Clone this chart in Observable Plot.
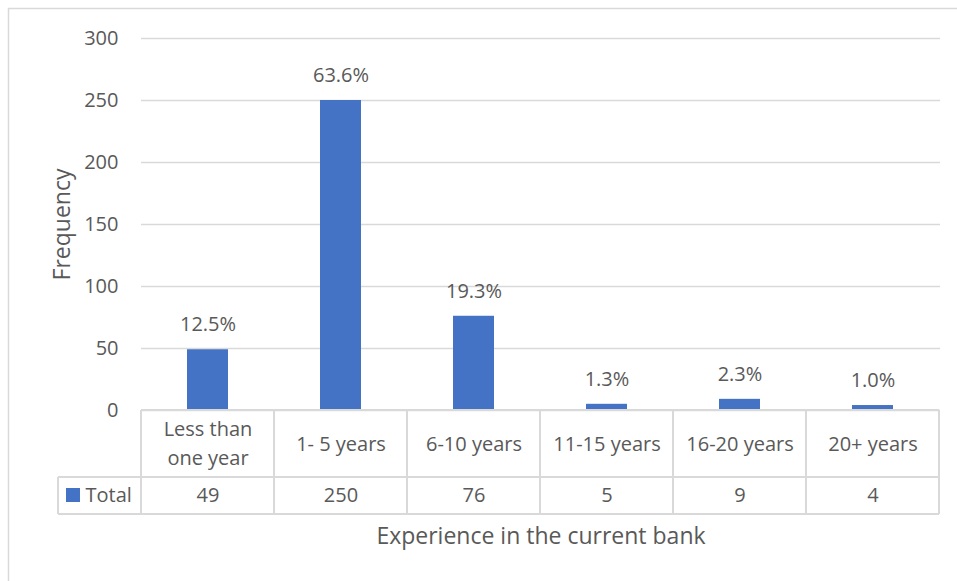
<!DOCTYPE html>
<html>
<head>
<meta charset="utf-8">
<script src="https://cdn.jsdelivr.net/npm/d3@7"></script>
<script src="https://cdn.jsdelivr.net/npm/@observablehq/plot@0.6"></script>
<style>
  html, body { margin: 0; padding: 0; background: #fff; }
  svg { display: block; }
</style>
</head>
<body>
<div id="chart"></div>
<script>
const categories = ["Less than\none year", "1- 5 years", "6-10 years", "11-15 years", "16-20 years", "20+ years"];
const values = [49, 250, 76, 5, 9, 4];
const percentLabels = ["12.5%", "63.6%", "19.3%", "1.3%", "2.3%", "1.0%"];
const yTicks = [0, 50, 100, 150, 200, 250, 300];
const seriesName = "Total";
const yTitle = "Frequency";
const xTitle = "Experience in the current bank";

const data = categories.map((c, i) => ({ cat: c, value: values[i], pct: percentLabels[i] }));

const FONT = "'Open Sans', sans-serif";
const TXT = "#595959";
const GRID = "#d9d9d9";
const BAR = "#4472C4";
const FS = 20;
const TS = 23;

const chart = Plot.plot({
  width: 957,
  height: 581,
  marginLeft: 141,
  marginRight: 17,
  marginTop: 38,
  marginBottom: 171,
  style: { fontFamily: FONT, fontSize: FS + "px", color: TXT, background: "white", overflow: "visible" },
  x: { domain: categories, paddingInner: 0.69, paddingOuter: 0.345, axis: null },
  y: { domain: [0, 300], ticks: yTicks, label: null },
  marks: [
    Plot.gridY(yTicks, { stroke: GRID, strokeOpacity: 1, strokeWidth: 1.3 }),
    Plot.axisY(yTicks, { tickSize: 0, tickPadding: 23, fontSize: FS, fill: TXT, label: null }),
    Plot.barY(data, { x: "cat", y: "value", fill: BAR }),
    Plot.text(data, { x: "cat", y: "value", text: "pct", dy: -25, fontSize: FS, fill: TXT }),
    // category row of data table
    Plot.text(data, { x: "cat", text: "cat", frameAnchor: "bottom", lineAnchor: "middle", dy: 31, fontSize: FS, fill: TXT, lineHeight: 1.45 }),
    // values row of data table
    Plot.text(data, { x: "cat", text: d => String(d.value), frameAnchor: "bottom", lineAnchor: "middle", dy: 85, fontSize: FS, fill: TXT }),
    // series name cell
    Plot.text([seriesName], { text: d => d, frameAnchor: "bottom-left", lineAnchor: "middle", dx: -56, dy: 85, textAnchor: "start", fontSize: FS, fill: TXT }),
    // y title
    Plot.text([yTitle], { text: d => d, frameAnchor: "left", textAnchor: "middle", lineAnchor: "middle", dx: -79, rotate: -90, fontSize: TS, fill: TXT }),
    // x title
    Plot.text([xTitle], { text: d => d, frameAnchor: "bottom", lineAnchor: "middle", dy: 126, fontSize: TS, fill: TXT })
  ]
});

document.getElementById("chart").appendChild(chart);

// Data-table grid lines and legend key, positioned from Plot's own x scale
const xs = chart.scale("x");
const step = xs.step;
const gap = step - xs.bandwidth;
const edges = categories.map(c => xs.apply(c) - gap / 2);
edges.push(edges[edges.length - 1] + step);
const yTop = 410, yMid = 477, yBot = 514, xLeft = 58;

const svg = d3.select(chart);
const g = svg.append("g").attr("stroke", GRID).attr("stroke-width", 2).attr("fill", "none");
g.append("line").attr("x1", edges[0]).attr("x2", edges[edges.length - 1]).attr("y1", yTop).attr("y2", yTop);
g.append("line").attr("x1", xLeft).attr("x2", edges[edges.length - 1]).attr("y1", yMid).attr("y2", yMid);
g.append("line").attr("x1", xLeft).attr("x2", edges[edges.length - 1]).attr("y1", yBot).attr("y2", yBot);
g.append("line").attr("x1", xLeft).attr("x2", xLeft).attr("y1", yMid).attr("y2", yBot);
edges.forEach(e => g.append("line").attr("x1", e).attr("x2", e).attr("y1", yTop).attr("y2", yBot));
// legend key
svg.append("rect").attr("x", 66).attr("y", 488).attr("width", 14).attr("height", 14).attr("fill", BAR);
// chart area border (top and left visible)
svg.append("rect").attr("x", 8.5).attr("y", 8.5).attr("width", 1200).attr("height", 1200)
  .attr("fill", "none").attr("stroke", GRID).attr("stroke-width", 1.5);
</script>
</body>
</html>
